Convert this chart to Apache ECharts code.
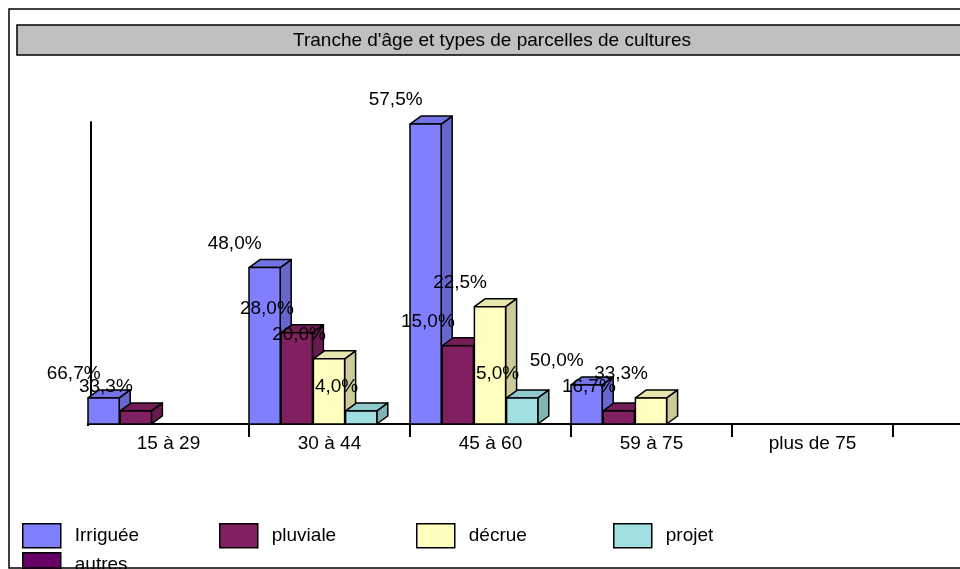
<!DOCTYPE html>
<html>
<head>
<meta charset="utf-8">
<title>Tranche d'âge et types de parcelles de cultures</title>
<script src="https://cdn.jsdelivr.net/npm/echarts@6/dist/echarts.min.js"></script>
<style>
  html, body { margin: 0; padding: 0; background: #fff; }
  #chart { width: 960px; height: 569px; }
</style>
</head>
<body>
<div id="chart"></div>
<script>
// Age groups (the last slot is an unnamed extra column of the plot)
const categories = ['15 à 29', '30 à 44', '45 à 60', '59 à 75', 'plus de 75', ''];

// Number of plots per type of cultivation, by age group
const irriguee = [2, 12, 23, 3, null, null];
const pluviale = [1, 7, 6, 1, null, null];
const decrue   = [null, 5, 9, 2, null, null];
const projet   = [null, 1, 2, null, null, null];
const autres   = [null, null, null, null, null, null];

const seriesNames = ['Irriguée', 'pluviale', 'décrue', 'projet', 'autres'];
const seriesValues = [irriguee, pluviale, decrue, projet, autres];

// front / top / side shades of each 3D column
const palette = [
  { front: '#8080FF', top: '#7373E6', side: '#6666CC' },
  { front: '#802060', top: '#731D56', side: '#661A4D' },
  { front: '#FFFFC0', top: '#E6E6AD', side: '#CCCC9A' },
  { front: '#A0E0E0', top: '#90CACA', side: '#80B3B3' },
  { front: '#660066', top: '#5C005C', side: '#520052' }
];

const FONT = '"Liberation Sans", Arial, sans-serif';

// total of every age group, used for the share written above each column
const totals = categories.map((_, i) =>
  seriesValues.reduce((s, arr) => s + (arr[i] || 0), 0));

function pctLabel(v, total) {
  return (v / total * 100).toFixed(1).replace('.', ',') + '%';
}

function makeRenderer(sIdx) {
  const col = palette[sIdx];
  return function (params, api) {
    const cat = api.value(0);
    const v = api.value(1);
    if (v == null || isNaN(v)) return;
    const base = api.coord([cat, 0]);
    const top = api.coord([cat, v]);
    const cw = api.size([1, 0])[0];
    const slot = cw / seriesNames.length;
    const x0 = base[0] - cw / 2 + sIdx * slot;
    const x1 = x0 + slot - 1;
    const y0 = base[1];
    const y1 = top[1];
    const dx = 11, dy = -8;
    const stroke = { stroke: '#000', lineWidth: 1.5, lineJoin: 'round' };
    return {
      type: 'group',
      children: [
        {
          type: 'polygon',
          shape: { points: [[x1, y1], [x1 + dx, y1 + dy], [x1 + dx, y0 + dy], [x1, y0]] },
          style: Object.assign({ fill: col.side }, stroke)
        },
        {
          type: 'polygon',
          shape: { points: [[x0, y1], [x1, y1], [x1 + dx, y1 + dy], [x0 + dx, y1 + dy]] },
          style: Object.assign({ fill: col.top }, stroke)
        },
        {
          type: 'rect',
          shape: { x: x0, y: y1, width: x1 - x0, height: y0 - y1 },
          style: Object.assign({ fill: col.front }, stroke)
        },
        {
          type: 'text',
          z2: 100,
          style: {
            x: (x0 + x1) / 2 - 3,
            y: y1 - 24,
            text: api.value(2),
            fill: '#000',
            font: '19px ' + FONT,
            align: 'right',
            verticalAlign: 'middle'
          }
        }
      ]
    };
  };
}

const series = seriesNames.map((name, sIdx) => ({
  name: name,
  type: 'custom',
  coordinateSystem: 'cartesian2d',
  renderItem: makeRenderer(sIdx),
  itemStyle: { color: palette[sIdx].front },
  encode: { x: 0, y: 1 },
  data: seriesValues[sIdx].map((v, i) =>
    [i, v == null ? null : v, v == null ? '' : pctLabel(v, totals[i])])
}));

// one legend block per series, laid out on a fixed 4-column grid
const legendSlots = [[22, 523], [219, 523], [416, 523], [613, 523], [22, 552]];
const legends = seriesNames.map((name, i) => ({
  left: legendSlots[i][0],
  top: legendSlots[i][1],
  padding: 0,
  itemWidth: 38,
  itemHeight: 24,
  selectedMode: false,
  data: [{ name: name, icon: 'rect' }],
  itemStyle: { borderColor: '#000', borderWidth: 1.5 },
  textStyle: {
    color: '#000',
    fontSize: 19,
    fontFamily: FONT,
    padding: [0, 0, 4, 9]
  }
}));

const chart = echarts.init(document.getElementById('chart'), null, { renderer: 'canvas' });
chart.setOption({
  animation: false,
  backgroundColor: '#fff',
  textStyle: { fontFamily: FONT },
  grid: {
    left: 88, top: 122, height: 302, width: 966,
    containLabel: false,
    outerBoundsMode: 'none'
  },
  xAxis: {
    type: 'category',
    data: categories,
    boundaryGap: true,
    axisLine: { lineStyle: { color: '#000', width: 2 } },
    axisTick: {
      show: true,
      length: 13,
      interval: 0,
      lineStyle: { color: '#000', width: 2 }
    },
    axisLabel: { color: '#000', fontSize: 19, fontFamily: FONT, margin: 10, interval: 0 },
    splitLine: { show: false }
  },
  yAxis: {
    type: 'value',
    min: 0,
    max: 23.16,
    offset: -3,
    axisLine: { show: true, lineStyle: { color: '#000', width: 2 } },
    axisTick: { show: false },
    axisLabel: { show: false },
    splitLine: { show: false }
  },
  legend: legends,
  graphic: [
    {
      type: 'rect',
      z: 100,
      shape: { x: 9, y: 9, width: 1000, height: 559 },
      style: { fill: 'none', stroke: '#000', lineWidth: 1.5 }
    },
    {
      type: 'rect',
      shape: { x: 17, y: 25, width: 950, height: 30 },
      style: { fill: '#C0C0C0', stroke: '#000', lineWidth: 1.5 }
    },
    {
      type: 'text',
      style: {
        x: 492,
        y: 41,
        text: "Tranche d'âge et types de parcelles de cultures",
        font: '19px ' + FONT,
        fill: '#000',
        align: 'center',
        verticalAlign: 'middle'
      }
    },
    {
      // keeps the corner under the value axis free of a category tick
      type: 'rect',
      z: 100,
      shape: { x: 84, y: 426, width: 8, height: 14 },
      style: { fill: '#fff' }
    }
  ],
  series: series
});
</script>
</body>
</html>
